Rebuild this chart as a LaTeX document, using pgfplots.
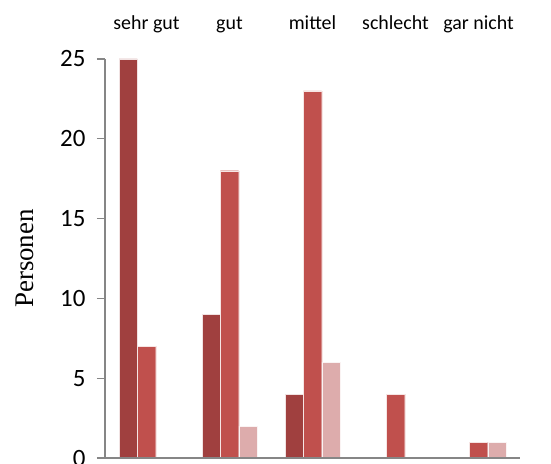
\documentclass[border=0pt]{standalone}
\usepackage{fontspec}
\setmainfont{Carlito}
\newfontfamily\seriffont{Liberation Serif}
\usepackage{pgfplots}
\pgfplotsset{compat=1.18}
\definecolor{darkred}{RGB}{160,64,63}
\definecolor{midred}{RGB}{192,80,77}
\definecolor{lightred}{RGB}{221,172,172}
\definecolor{axgray}{RGB}{134,134,134}
\begin{document}
\begin{tikzpicture}
\begin{axis}[
  name=ax,
  scale only axis,
  width=415bp, height=399bp,
  xmin=-0.5, xmax=4.5,
  ymin=0, ymax=25,
  axis on top,
  axis x line=bottom,
  axis y line=left,
  axis line style={draw=axgray, line width=1.3bp, -},
  xtick={0,1,2,3,4},
  xticklabels={sehr gut, gut, mittel, schlecht, gar nicht},
  xtick style={draw=none},
  xticklabel style={font=\fontsize{20}{24}\selectfont, anchor=base, yshift=436bp},
  ytick={0,5,10,15,20,25},
  tick align=outside,
  major tick length=8bp,
  ytick style={draw=axgray, line width=1.3bp},
  yticklabel style={font=\fontsize{25}{30}\selectfont, xshift=-8bp},
  /pgf/number format/assume math mode=true,
  ylabel={\seriffont Personen},
  ylabel style={font=\fontsize{27}{32}\selectfont, at={([xshift=-80bp]axis description cs:0,0.5)}, anchor=center},
  ybar, bar width=18.3bp,
  clip=false,
]
\addplot[fill=darkred, draw=white!85!darkred, line width=0.3bp, bar shift=-18.3bp] coordinates {(0,25) (1,9) (2,4)};
\addplot[fill=midred, draw=white!85!midred, line width=0.3bp, bar shift=0bp] coordinates {(0,7) (1,18) (2,23) (3,4) (4,1)};
\addplot[fill=lightred, draw=white!85!lightred, line width=0.3bp, bar shift=18.3bp] coordinates {(1,2) (2,6) (4,1)};
\end{axis}
\pgfresetboundingbox
\path ([xshift=-105bp,yshift=-5bp]ax.south west) rectangle ([xshift=31bp,yshift=59bp]ax.north east);
\end{tikzpicture}
\end{document}
